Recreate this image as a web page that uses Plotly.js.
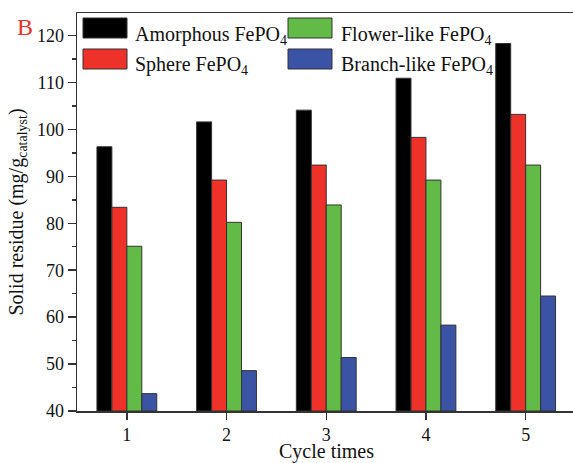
<!DOCTYPE html>
<html>
<head>
<meta charset="utf-8">
<script src="https://cdn.plot.ly/plotly-3.0.1.min.js"></script>
<style>html,body{margin:0;padding:0;background:#fff;}#chart{width:573px;height:463px;}</style>
</head>
<body>
<div id="chart"></div>
<script>
// ---- data ----
const cycles = [1, 2, 3, 4, 5];
const seriesNames = ["Amorphous FePO<sub>4</sub>", "Sphere FePO<sub>4</sub>", "Flower-like FePO<sub>4</sub>", "Branch-like FePO<sub>4</sub>"];
const amorphous = [96.3, 101.6, 104.1, 110.9, 118.3];
const sphere = [83.4, 89.2, 92.4, 98.3, 103.2];
const flower = [75.1, 80.2, 83.9, 89.2, 92.4];
const branch = [43.7, 48.6, 51.4, 58.3, 64.5];
const yTickVals = [40, 50, 60, 70, 80, 90, 100, 110, 120];
const xTickLabels = ["1", "2", "3", "4", "5"];
const xTitle = "Cycle times";
const yTitle = "Solid residue (mg/g<sub>catalyst</sub>)";

const colors = ["#000000", "#EE3129", "#62BB46", "#3A53A4"];
const values = [amorphous, sphere, flower, branch];

const W = 573, H = 463;
const ml = 77, mr = 0, mt = 13, mb = 52;
const pw = W - ml - mr, ph = H - mt - mb;
const px = x => (x - ml) / pw;
const py = y => (H - mb - y) / ph;

const font = "Liberation Serif, Times New Roman, serif";

const traces = values.map((v, i) => ({
  type: "bar",
  x: cycles,
  y: v.map(val => val - 40),
  base: 40,
  name: seriesNames[i],
  marker: {color: colors[i], line: {color: "#333333", width: 1}},
  showlegend: false,
  hoverinfo: "skip"
}));

// custom legend (large swatches)
const legendPos = [
  {sx: 83, sy: 18, tx: 133},
  {sx: 83, sy: 49, tx: 133},
  {sx: 288, sy: 18, tx: 339},
  {sx: 288, sy: 49, tx: 339}
];
const shapes = [];
const annotations = [];
legendPos.forEach((p, i) => {
  shapes.push({
    type: "rect", xref: "paper", yref: "paper",
    x0: px(p.sx), x1: px(p.sx + 44), y0: py(p.sy), y1: py(p.sy + 20),
    fillcolor: colors[i], line: {color: "#333333", width: 1}
  });
  annotations.push({
    xref: "paper", yref: "paper", x: px(p.tx), y: py(p.sy + 17),
    xanchor: "left", yanchor: "middle", showarrow: false,
    text: seriesNames[i], font: {family: font, size: 20, color: "#111"}
  });
});
annotations.push({
  xref: "paper", yref: "paper", x: px(25), y: py(27),
  xanchor: "center", yanchor: "middle", showarrow: false,
  text: "B", font: {family: font, size: 24, color: "#EE3129"}
});
annotations.push({
  xref: "paper", yref: "paper", x: px(326), y: py(451),
  xanchor: "center", yanchor: "middle", showarrow: false,
  text: xTitle, font: {family: font, size: 20, color: "#111"}
});

const layout = {
  width: W, height: H,
  margin: {l: ml, r: mr, t: mt, b: mb},
  paper_bgcolor: "#ffffff", plot_bgcolor: "#ffffff",
  barmode: "group", bargap: 0.4, bargroupgap: 0,
  font: {family: font, size: 18, color: "#111"},
  xaxis: {
    range: [0.5, 0.5 + pw / 99.7],
    tickvals: cycles, ticktext: xTickLabels,
    ticks: "outside", ticklen: 7, tickwidth: 1.5, tickcolor: "#333",
    showline: true, linecolor: "#333", linewidth: 1.5, mirror: true,
    showgrid: false, zeroline: false,
    tickfont: {family: font, size: 18, color: "#111"}
  },
  yaxis: {
    range: [40, 124.8],
    tickvals: yTickVals,
    ticks: "outside", ticklen: 8, tickwidth: 1.5, tickcolor: "#333",
    minor: {dtick: 5, ticks: "outside", ticklen: 4, tickwidth: 1.5, tickcolor: "#333", showgrid: false},
    showline: true, linecolor: "#333", linewidth: 1.5,
    showgrid: false, zeroline: false,
    tickfont: {family: font, size: 18, color: "#111"},
    title: {text: yTitle, font: {family: font, size: 20, color: "#111"}, standoff: 8}
  },
  shapes: shapes,
  annotations: annotations
};

Plotly.newPlot("chart", traces, layout, {displayModeBar: false, staticPlot: true});
</script>
</body>
</html>
